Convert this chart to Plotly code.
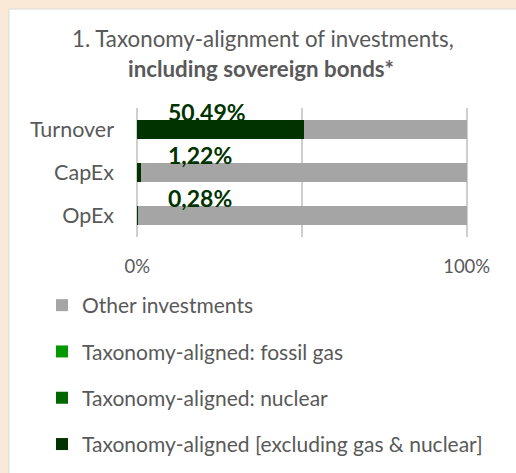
import plotly.graph_objects as go

categories = ["Turnover", "CapEx", "OpEx"]
aligned_excl = [50.49, 1.22, 0.28]
aligned_nuclear = [0.0, 0.0, 0.0]
aligned_gas = [0.0, 0.0, 0.0]
other_inv = [49.51, 98.78, 99.72]
label_text = ["50,49%", "1,22%", "0,28%"]
x_tickvals = [0, 50, 100]
x_ticktext = ["0%", "", "100%"]
title_line1 = "1. Taxonomy-alignment of investments,"
title_line2 = "including sovereign bonds*"

FONT = "Lato"
GREY_TXT = "#595959"

fig = go.Figure()
series = [
    ("Taxonomy-aligned [excluding gas & nuclear]", aligned_excl, "#003300", 4),
    ("Taxonomy-aligned: nuclear", aligned_nuclear, "#006600", 3),
    ("Taxonomy-aligned: fossil gas", aligned_gas, "#009900", 2),
    ("Other investments", other_inv, "#A5A5A5", 1),
]
for i, (name, vals, col, rank) in enumerate(series):
    fig.add_trace(go.Bar(
        y=categories, x=vals, name=name, orientation="h",
        marker=dict(color=col, line=dict(width=0)),
        width=0.45, legendgroup=f"g{i}", legendrank=rank, hoverinfo="x+name",
    ))

for cat, txt in zip(categories, label_text):
    fig.add_annotation(x=8.8, y=cat, text=f"<b>{txt}</b>", showarrow=False,
                       xanchor="left", yanchor="middle", yshift=18,
                       font=dict(family=FONT, size=23, color="#003300"))

L, R, T, B = 136, 468, 108, 237
W, H = 516, 473
def px(xp):
    return (xp - L) / (R - L)
def py(yp):
    return (B - yp) / (B - T)

fig.add_shape(type="rect", xref="paper", yref="paper",
              x0=px(9), x1=px(530), y0=py(9), y1=py(490),
              fillcolor="white", line=dict(color="#D9D9D9", width=1), layer="below")

fig.add_annotation(xref="paper", yref="paper", x=px(263), y=py(39),
                   xanchor="center", yanchor="middle", showarrow=False,
                   text=title_line1, font=dict(family=FONT, size=22.3, color=GREY_TXT))
fig.add_annotation(xref="paper", yref="paper", x=px(260.5), y=py(69),
                   xanchor="center", yanchor="middle", showarrow=False,
                   text=f"<b>{title_line2}</b>", font=dict(family=FONT, size=22.3, color=GREY_TXT))

fig.update_layout(
    width=W, height=H,
    margin=dict(l=L, r=W - R, t=T, b=H - B, autoexpand=False),
    paper_bgcolor="#FBE9D7", plot_bgcolor="rgba(0,0,0,0)",
    barmode="stack",
    font=dict(family=FONT, color=GREY_TXT, size=17),
    xaxis=dict(range=[-0.4, 100.4], tickvals=x_tickvals, ticktext=x_ticktext,
               showgrid=True, gridcolor="#CFCFCF", gridwidth=2, zeroline=False,
               showline=False, ticks="", tickfont=dict(size=18.5), ticklabelstandoff=16,
               automargin=False),
    yaxis=dict(range=[2.5, -0.5], showgrid=False, ticks="", showline=False,
               tickfont=dict(size=21.5), ticklabelstandoff=21, automargin=False),
    legend=dict(x=px(42), xanchor="left", y=py(285), yanchor="top",
                traceorder="grouped", tracegroupgap=16,
                font=dict(family=FONT, size=21, color=GREY_TXT),
                bgcolor="rgba(0,0,0,0)"),
    showlegend=True,
)

fig.write_html("out.html", config={"displayModeBar": False},
               post_script="document.body.style.margin='0';document.body.style.overflow='hidden';")
